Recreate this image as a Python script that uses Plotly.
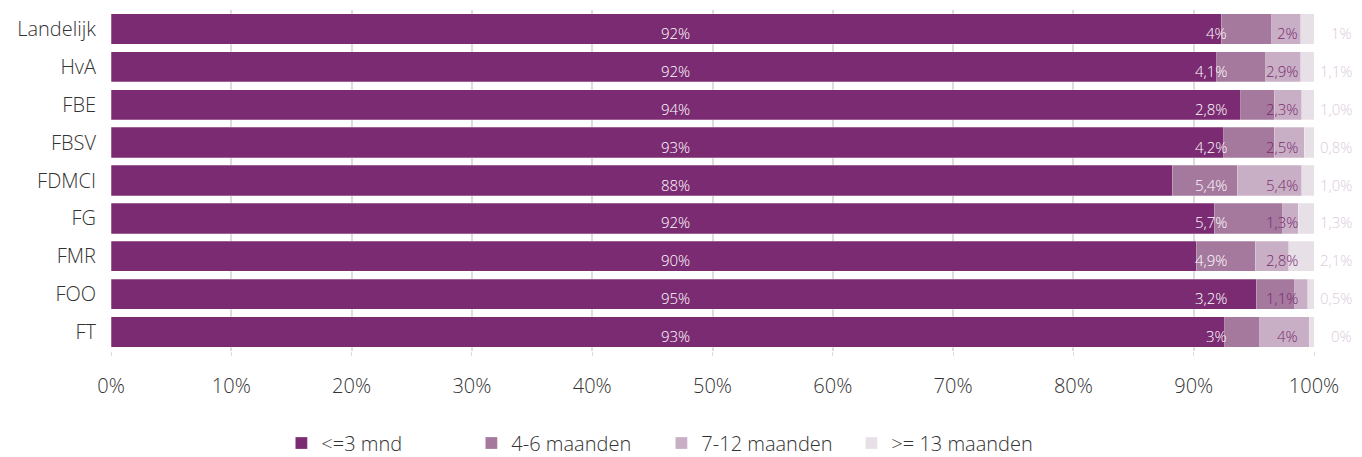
import plotly.graph_objects as go

FONT = "Open Sans, sans-serif"
TEXT = "#333333"

CATEGORIES = ["Landelijk", "HvA", "FBE", "FBSV", "FDMCI", "FG", "FMR", "FOO", "FT"]
SERIES = ["<=3 mnd", "4-6 maanden", "7-12 maanden", ">= 13 maanden"]

MND_0_3 = [92.3, 91.9, 93.9, 92.5, 88.2, 91.7, 90.2, 95.2, 92.6]
MND_4_6 = [4.2, 4.1, 2.8, 4.2, 5.4, 5.7, 4.9, 3.2, 2.9]
MND_7_12 = [2.4, 2.9, 2.3, 2.5, 5.4, 1.3, 2.8, 1.1, 4.1]
MND_13 = [1.1, 1.1, 1.0, 0.8, 1.0, 1.3, 2.1, 0.5, 0.4]

LABEL_0_3 = ["92%", "92%", "94%", "93%", "88%", "92%", "90%", "95%", "93%"]
LABEL_4_6 = ["4%", "4,1%", "2,8%", "4,2%", "5,4%", "5,7%", "4,9%", "3,2%", "3%"]
LABEL_7_12 = ["2%", "2,9%", "2,3%", "2,5%", "5,4%", "1,3%", "2,8%", "1,1%", "4%"]
LABEL_13 = ["1%", "1,1%", "1,0%", "0,8%", "1,0%", "1,3%", "2,1%", "0,5%", "0%"]

COLOURS = ["#7b2b72", "#a5789d", "#c9afc5", "#e8e0e7"]
LABEL_COLOURS = ["#ffffff", "#ffffff", "#7b2b72", "#dccbdb"]

# fixed label columns (paper x, anchor)
LABEL_POS = [(0.469, "center"), (0.929, "right"), (0.988, "right"), (1.033, "right")]

fig = go.Figure()
for name, vals, col in zip(SERIES, [MND_0_3, MND_4_6, MND_7_12, MND_13], COLOURS):
    fig.add_trace(go.Bar(
        name=name,
        x=vals,
        y=CATEGORIES,
        orientation="h",
        marker=dict(color=col, line=dict(color="rgba(255,255,255,0.5)", width=0.5)),
        hoverinfo="skip",
    ))

for labels, (px, anchor), col in zip([LABEL_0_3, LABEL_4_6, LABEL_7_12, LABEL_13],
                                     LABEL_POS, LABEL_COLOURS):
    for cat, txt in zip(CATEGORIES, labels):
        fig.add_annotation(
            x=px, xref="paper", y=cat, yref="y",
            text=txt, showarrow=False, xanchor=anchor, yanchor="middle",
            yshift=-4, font=dict(family=FONT, size=15, color=col, weight=300),
        )

# page body has an 8px margin, so margins are shifted by 8px
fig.update_layout(
    barmode="stack",
    bargap=0.2,
    width=1362,
    height=457,
    paper_bgcolor="white",
    plot_bgcolor="white",
    font=dict(family=FONT, color=TEXT, size=20, weight=300),
    margin=dict(l=103, r=56, t=2, b=114, autoexpand=False),
    xaxis=dict(
        range=[0, 100], dtick=10, ticksuffix="%",
        showgrid=True, gridcolor="#dcdcdc", gridwidth=1.5,
        zeroline=False, showline=False,
        ticks="outside", ticklen=4, tickcolor="#dcdcdc",
        ticklabelstandoff=13,
        tickfont=dict(family=FONT, size=20, color=TEXT, weight=300),
    ),
    yaxis=dict(
        autorange="reversed", showgrid=False, ticks="", ticklabelstandoff=14,
        tickfont=dict(family=FONT, size=20, color=TEXT, weight=300),
    ),
    legend=dict(
        orientation="h", x=0.4575, xanchor="center", y=-0.27, yanchor="middle",
        font=dict(family=FONT, size=20, color=TEXT, weight=300),
        traceorder="normal", itemwidth=30, entrywidth=145,
    ),
)

fig.write_html("out.html")
